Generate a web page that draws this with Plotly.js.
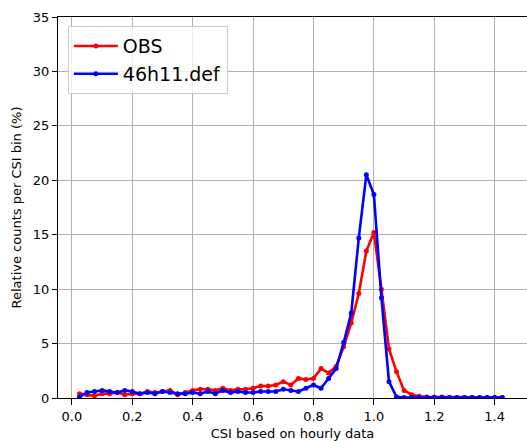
<!DOCTYPE html>
<html>
<head>
<meta charset="utf-8">
<script src="https://cdn.plot.ly/plotly-3.0.1.min.js"></script>
<style>html,body{margin:0;padding:0;background:#fff;}#chart{width:527px;height:441px;}</style>
</head>
<body>
<div id="chart"></div>
<script>
var csiBins = [0.025,0.05,0.075,0.1,0.125,0.15,0.175,0.2,0.225,0.25,0.275,0.3,0.325,0.35,0.375,0.4,0.425,0.45,0.475,0.5,0.525,0.55,0.575,0.6,0.625,0.65,0.675,0.7,0.725,0.75,0.775,0.8,0.825,0.85,0.875,0.9,0.925,0.95,0.975,1.0,1.025,1.05,1.075,1.1,1.125,1.15,1.175,1.2,1.225,1.25,1.275,1.3,1.325,1.35,1.375,1.4,1.425];
var obsValues = [0.4,0.3,0.2,0.4,0.4,0.5,0.3,0.4,0.4,0.6,0.5,0.6,0.7,0.3,0.5,0.7,0.8,0.8,0.7,0.9,0.7,0.8,0.8,0.9,1.1,1.1,1.2,1.5,1.2,1.8,1.7,1.8,2.7,2.3,2.9,4.7,6.9,9.6,13.5,15.2,10.0,4.5,2.4,0.7,0.3,0.15,0.1,0.1,0.1,0.05,0.05,0.05,0.05,0.05,0.05,0.05,0.05];
var modelValues = [0.1,0.5,0.6,0.7,0.6,0.5,0.7,0.6,0.4,0.5,0.4,0.6,0.5,0.4,0.4,0.5,0.4,0.6,0.4,0.7,0.5,0.6,0.5,0.5,0.6,0.6,0.6,0.8,0.7,0.6,0.9,1.2,0.9,1.8,2.7,5.1,7.8,14.7,20.5,18.7,9.2,1.5,0.1,0.05,0.05,0.05,0.05,0.05,0.05,0.05,0.05,0.05,0.05,0.05,0.05,0.05,0.05];
var seriesNames = ["OBS","46h11.def"];
var xTickVals = [0,0.2,0.4,0.6,0.8,1.0,1.2,1.4];
var xTickText = ["0.0","0.2","0.4","0.6","0.8","1.0","1.2","1.4"];
var yTickVals = [0,5,10,15,20,25,30,35];

var traces = [
  {x: csiBins, y: obsValues, name: seriesNames[0], mode: "lines+markers", type: "scatter",
   line: {color: "#ff0000", width: 2.6}, marker: {color: "#ff0000", size: 5}},
  {x: csiBins, y: modelValues, name: seriesNames[1], mode: "lines+markers", type: "scatter",
   line: {color: "#0000ff", width: 2.6}, marker: {color: "#0000ff", size: 5}}
];
var layout = {
  width: 527, height: 441,
  margin: {l: 58, r: 0, t: 17, b: 43},
  paper_bgcolor: "#fff", plot_bgcolor: "#fff",
  font: {family: "DejaVu Sans", size: 13, color: "#000"},
  showlegend: true,
  legend: {x: 0.021, y: 0.976, xanchor: "left", yanchor: "top", itemwidth: 44,
    bgcolor: "rgba(255,255,255,0.8)", bordercolor: "#cccccc", borderwidth: 1,
    font: {family: "DejaVu Sans", size: 19, color: "#000"}, tracegroupgap: 0},
  xaxis: {range: [-0.046, 1.507], tickvals: xTickVals, ticktext: xTickText,
    showgrid: true, gridcolor: "#b0b0b0", gridwidth: 1, zeroline: false,
    showline: true, linecolor: "#000", linewidth: 1, mirror: true,
    ticks: "outside", ticklen: 6, tickcolor: "#000",
    title: {text: "CSI based on hourly data", font: {size: 13}, standoff: 9}},
  yaxis: {range: [0, 35], tickvals: yTickVals,
    showgrid: true, gridcolor: "#b0b0b0", gridwidth: 1, zeroline: false,
    showline: true, linecolor: "#000", linewidth: 1,
    ticks: "outside", ticklen: 5, tickcolor: "#000",
    title: {text: "Relative counts per CSI bin (%)", font: {size: 13}, standoff: 8}}
};
Plotly.newPlot("chart", traces, layout, {displayModeBar: false, staticPlot: true});
</script>
</body>
</html>
